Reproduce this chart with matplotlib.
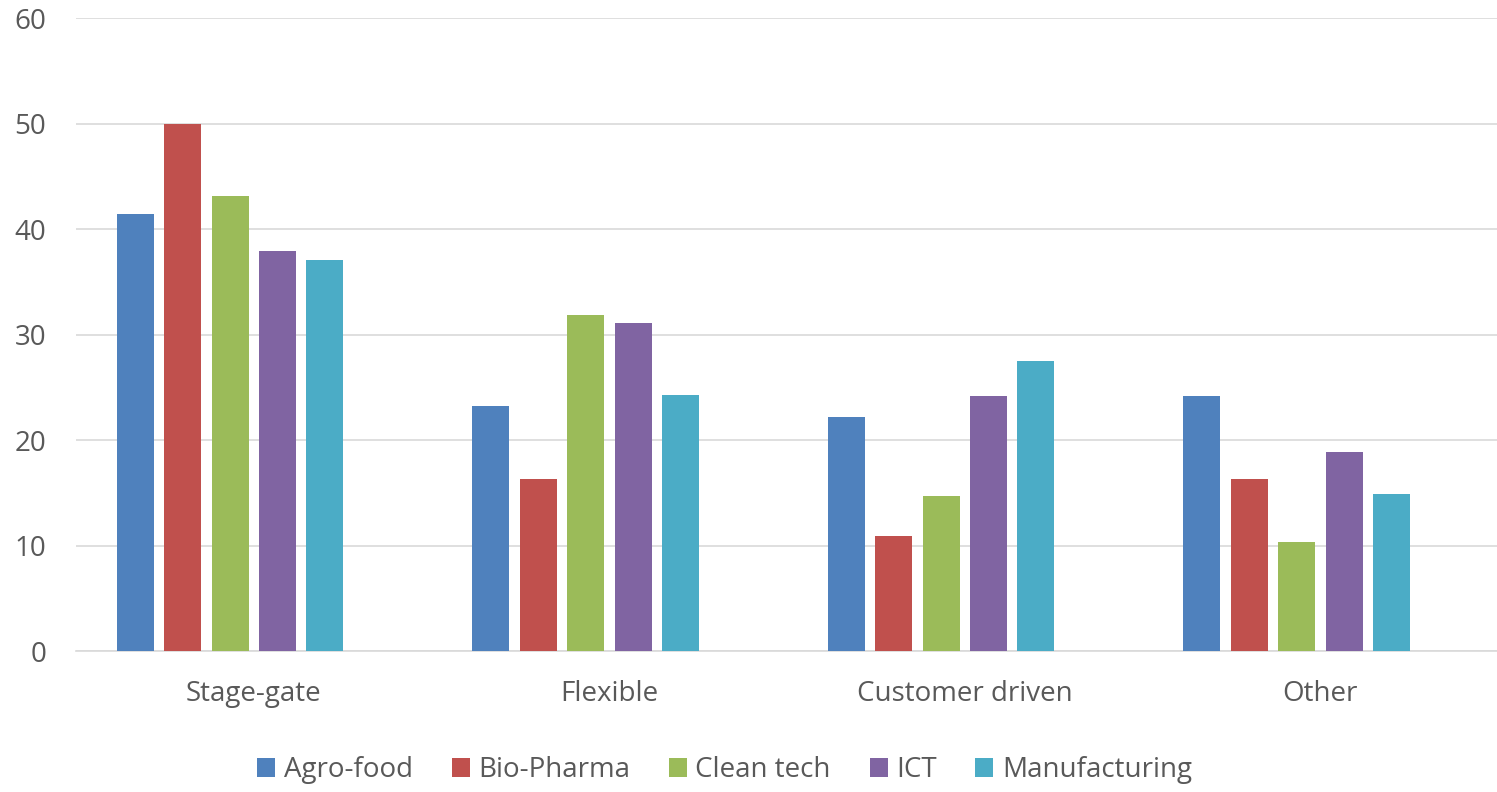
import matplotlib.pyplot as plt
import numpy as np

plt.rcParams['font.family'] = ['Open Sans', 'DejaVu Sans']

# Share of firms per innovation process, by sector
categories = ["Stage-gate", "Flexible", "Customer driven", "Other"]
sectors = ["Agro-food", "Bio-Pharma", "Clean tech", "ICT", "Manufacturing"]
agro_food = [41.4, 23.2, 22.2, 24.2]
bio_pharma = [50.0, 16.3, 10.9, 16.3]
clean_tech = [43.1, 31.9, 14.7, 10.3]
ict = [37.9, 31.1, 24.2, 18.9]
manufacturing = [37.1, 24.3, 27.5, 14.9]
series = [agro_food, bio_pharma, clean_tech, ict, manufacturing]
colors = ["#4F81BD", "#C0504D", "#9BBB59", "#8064A2", "#4BACC6"]

text_color = "#595959"
grid_color = "#D9D9D9"

fig = plt.figure(figsize=(14.97, 7.92), dpi=100)
ax = fig.add_axes([0.0508, 0.178, 0.950, 0.799])

x = np.arange(len(categories))
step = 0.1333
width = 0.104
# six slots per group (last one left empty), so the bars sit left of the label
for j, (vals, col, name) in enumerate(zip(series, colors, sectors)):
    ax.bar(x + (j - 2.5) * step, vals, width=width, color=col, label=name, zorder=3)

ax.set_xlim(-0.5, len(categories) - 0.5)
ax.set_ylim(0, 60)
ax.set_yticks(range(0, 61, 10))
ax.set_xticks(x)
ax.set_xticklabels(categories)
ax.yaxis.grid(True, color=grid_color, linewidth=1.2, zorder=0)
ax.tick_params(axis='both', length=0, labelsize=20, colors=text_color)
ax.tick_params(axis='y', pad=21.5)
ax.tick_params(axis='x', pad=21)
for side in ['top', 'right', 'left']:
    ax.spines[side].set_visible(False)
ax.spines['bottom'].set_color(grid_color)
ax.spines['bottom'].set_linewidth(1.2)

leg = fig.legend(loc='center', bbox_to_anchor=(0.484, 1 - 770 / 792), ncol=5,
                 frameon=False, fontsize=20, handlelength=0.65, handleheight=0.65,
                 handletextpad=0.3, columnspacing=1.4)
for t in leg.get_texts():
    t.set_color(text_color)

fig.savefig("out.png", dpi=100)
